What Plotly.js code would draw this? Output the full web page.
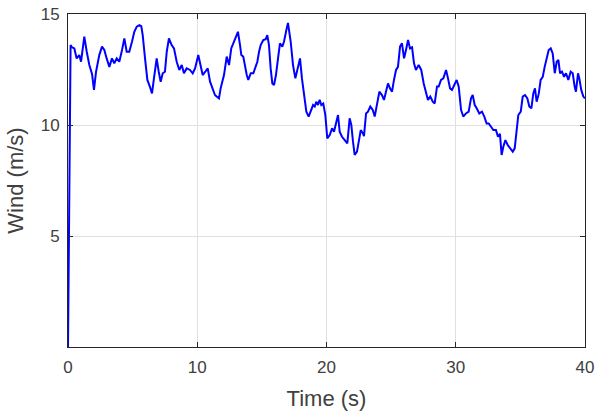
<!DOCTYPE html>
<html>
<head>
<meta charset="utf-8">
<script src="https://cdn.plot.ly/plotly-3.0.1.min.js"></script>
<style>html,body{margin:0;padding:0;background:#fff;}#chart{width:596px;height:416px;}</style>
</head>
<body>
<div id="chart"></div>
<script>
const time = [0,0.2,0.31,0.49,0.67,0.87,1.01,1.26,1.45,1.65,1.86,2.01,2.17,2.42,2.63,2.81,2.99,3.20,3.40,3.58,3.77,3.97,4.18,4.36,4.54,4.74,4.95,5.13,5.32,5.52,5.67,5.78,5.96,6.14,6.34,6.50,6.65,6.86,7.02,7.17,7.33,7.50,7.64,7.81,8.02,8.20,8.41,8.61,8.80,8.97,9.18,9.44,9.65,9.83,10.08,10.27,10.42,10.62,10.81,10.99,11.20,11.37,11.50,11.68,11.81,12.07,12.28,12.46,12.63,12.84,13.00,13.15,13.31,13.41,13.56,13.67,13.83,13.95,14.14,14.34,14.52,14.65,14.78,14.91,15.11,15.30,15.42,15.55,15.68,15.81,15.94,16.09,16.25,16.40,16.58,16.71,16.92,17.02,17.23,17.41,17.59,17.80,17.95,18.10,18.26,18.44,18.62,18.78,18.96,19.09,19.21,19.34,19.47,19.60,19.75,19.91,20.06,20.25,20.43,20.58,20.76,20.89,21.02,21.20,21.41,21.61,21.79,21.92,22.05,22.18,22.36,22.51,22.65,22.82,22.90,23.06,23.21,23.39,23.58,23.73,23.91,24.09,24.29,24.45,24.60,24.76,24.91,25.07,25.22,25.38,25.53,25.69,25.84,26.00,26.15,26.31,26.46,26.62,26.77,26.92,27.13,27.33,27.52,27.70,27.85,28.03,28.22,28.37,28.55,28.68,28.86,29.04,29.25,29.40,29.56,29.71,29.89,30.07,30.23,30.41,30.58,30.79,31.00,31.18,31.31,31.47,31.62,31.82,32.03,32.21,32.39,32.55,32.73,32.91,33.11,33.27,33.42,33.55,33.68,33.84,34.02,34.20,34.41,34.56,34.71,34.84,35.03,35.18,35.36,35.54,35.69,35.85,36.00,36.13,36.26,36.42,36.57,36.73,36.88,37.04,37.19,37.35,37.50,37.66,37.81,37.94,38.07,38.22,38.38,38.53,38.71,38.89,39.05,39.20,39.30,39.46,39.56,39.71,39.87,40.0];
const wind = [0,13.6,13.5,13.45,13.0,13.15,12.85,13.98,13.3,12.7,12.3,11.58,12.4,13.15,13.53,13.38,13.0,12.62,13.0,12.78,13.0,12.85,13.38,13.9,13.3,13.3,13.75,14.2,14.43,14.5,14.45,14.05,13.0,12.03,11.72,11.42,12.1,13.0,12.4,11.95,12.33,12.4,13.3,13.9,13.6,13.45,12.85,12.48,12.7,12.33,12.55,12.48,12.33,12.55,13.15,12.7,12.25,12.4,12.55,11.95,11.58,11.35,11.28,11.2,11.65,12.25,13.08,12.7,13.45,13.75,13.9,14.2,13.6,13.15,13.08,12.7,12.25,12.03,12.33,12.33,12.7,12.85,13.3,13.6,13.83,13.87,14.05,13.6,12.55,11.87,11.8,12.25,13.0,13.68,13.53,13.75,14.35,14.6,13.75,12.7,12.1,12.7,13.0,12.1,11.35,10.6,10.38,10.6,10.9,10.83,11.05,10.9,11.13,10.9,10.97,10.45,9.4,9.55,9.85,9.7,10.07,10.45,9.7,9.47,9.32,9.17,10.3,10.0,9.25,8.65,8.8,9.4,9.77,9.62,9.5,10.52,10.6,10.83,10.68,10.38,10.9,11.5,11.35,11.13,11.5,11.87,11.65,11.5,12.03,12.48,12.62,13.53,13.68,13.0,13.38,13.83,13.45,13.5,12.78,12.48,12.7,12.48,11.87,11.42,11.13,11.28,11.05,10.97,11.73,11.73,12.03,12.1,12.48,12.1,11.65,11.58,11.8,12.03,11.73,10.68,10.38,10.52,10.6,11.2,11.35,10.9,10.75,10.52,10.6,10.38,10.07,10.07,9.92,9.77,9.77,9.47,9.6,8.65,9.02,9.32,9.1,8.95,8.8,8.95,9.77,10.45,10.6,11.28,11.35,11.2,10.83,10.75,11.42,11.65,11.05,11.4,12.03,12.17,12.62,13.08,13.38,13.45,13.22,12.33,12.85,12.93,12.33,12.4,12.17,12.33,12.03,12.4,12.33,11.73,11.5,12.33,12.1,11.58,11.28,11.2];
const xTicks = [0,10,20,30,40];
const yTicks = [5,10,15];

const FONT = 'Liberation Sans, Arial, sans-serif';
const axisCommon = {
  showline: true, linecolor: '#262626', linewidth: 1, mirror: 'ticks',
  ticks: 'inside', ticklen: 5, tickcolor: '#262626',
  showgrid: true, gridcolor: '#e0e0e0', gridwidth: 1,
  zeroline: false,
  tickfont: {family: FONT, size: 17, color: '#404040'}
};
const layout = {
  width: 596, height: 416,
  margin: {l: 68, r: 11, t: 14, b: 69},
  paper_bgcolor: '#fff', plot_bgcolor: '#fff',
  showlegend: false,
  xaxis: Object.assign({}, axisCommon, {
    range: [0, 40], tickvals: xTicks, ticktext: xTicks.map(String),
    ticklabelstandoff: 5,
    title: {text: 'Time (s)', font: {family: FONT, size: 22, color: '#404040'}, standoff: 14}
  }),
  yaxis: Object.assign({}, axisCommon, {
    range: [0, 15], tickvals: yTicks, ticktext: yTicks.map(String),
    ticklabelstandoff: 4,
    title: {text: 'Wind (m/s)', font: {family: FONT, size: 22, color: '#404040'}, standoff: 10}
  })
};
Plotly.newPlot('chart', [{
  x: time, y: wind, type: 'scatter', mode: 'lines',
  line: {color: '#0000ff', width: 2}
}], layout, {staticPlot: true, displayModeBar: false});
</script>
</body>
</html>
